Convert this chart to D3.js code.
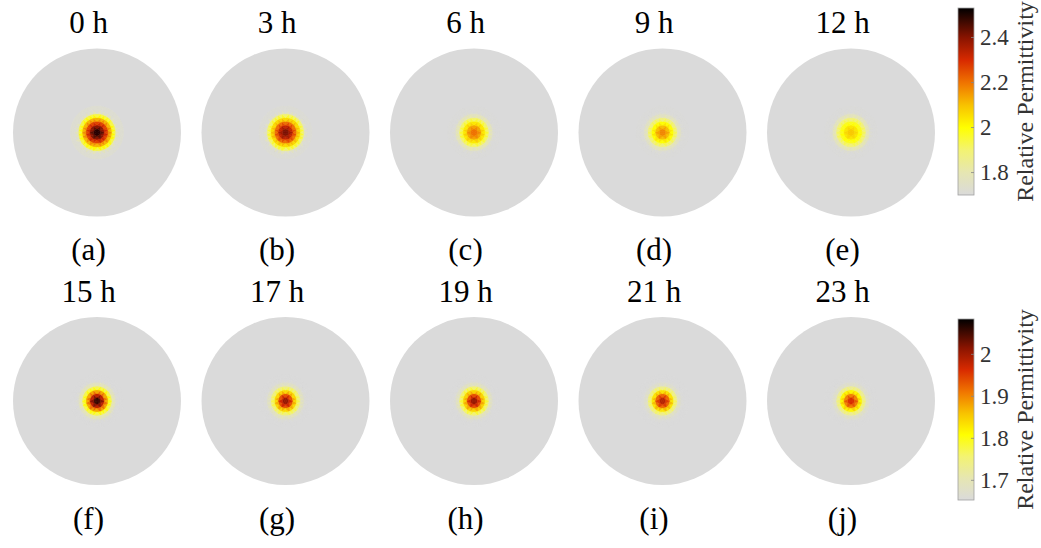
<!DOCTYPE html>
<html>
<head>
<meta charset="utf-8">
<script src="https://cdn.jsdelivr.net/npm/d3@7"></script>
<style>
  html, body { margin: 0; padding: 0; background: #fff; }
  svg text { font-family: "Liberation Serif", "Times New Roman", Times, serif; }
</style>
</head>
<body>
<div id="chart"></div>
<script>
// ---- Data -------------------------------------------------------
// Radial sample positions (fraction of the domain radius) and the
// reconstructed permittivity read off each frame at those positions.
const profileRadii = [0, 0.05, 0.10, 0.15, 0.20, 0.25];

const topTimes   = ['0 h', '3 h', '6 h', '9 h', '12 h'];
const topLabels  = ['(a)', '(b)', '(c)', '(d)', '(e)'];
const topProfiles = [
  [2.52, 2.46, 2.32, 2.16, 1.98, 1.72],
  [2.44, 2.38, 2.26, 2.10, 1.94, 1.71],
  [2.22, 2.18, 2.08, 1.95, 1.78, 1.70],
  [2.20, 2.15, 2.04, 1.92, 1.76, 1.70],
  [2.10, 2.07, 2.00, 1.92, 1.78, 1.70],
];
const topRange = [1.698, 2.529];
const topTicks = [1.8, 2.0, 2.2, 2.4];

const bottomTimes  = ['15 h', '17 h', '19 h', '21 h', '23 h'];
const bottomLabels = ['(f)', '(g)', '(h)', '(i)', '(j)'];
const bottomProfiles = [
  [2.08, 2.03, 1.92, 1.80, 1.69, 1.652],
  [2.03, 1.98, 1.88, 1.77, 1.68, 1.652],
  [2.03, 1.98, 1.88, 1.78, 1.68, 1.652],
  [2.01, 1.96, 1.87, 1.76, 1.67, 1.652],
  [1.98, 1.94, 1.85, 1.75, 1.67, 1.652],
];
const bottomRange = [1.652, 2.083];
const bottomTicks = [1.7, 1.8, 1.9, 2.0];

const cbarTitle = 'Relative Permittivity';

// ---- Layout -----------------------------------------------------
const W = 1041, H = 548;
const R = 84;                     // disk radius in px
const colX = d3.scaleLinear().domain([0, 4]).range([97, 851]);
const rowY = [132.5, 401];
const GRAY = '#dadada';

// custom "hot" map with a grey floor, like the figure
const hotStops = [
  [0.00, '#dadada'], [0.12, '#e6e6b2'], [0.24, '#f3f372'], [0.36, '#ffff00'],
  [0.48, '#f8c200'], [0.60, '#f07400'], [0.72, '#d82a00'], [0.84, '#8a1400'],
  [1.00, '#000000'],
];
const hot = d3.scaleLinear()
  .domain(hotStops.map(d => d[0]))
  .range(hotStops.map(d => d[1]))
  .interpolate(d3.interpolateRgb)
  .clamp(true);

const svg = d3.select('#chart').append('svg')
  .attr('width', W).attr('height', H)
  .attr('viewBox', `0 0 ${W} ${H}`);

const defs = svg.append('defs');
defs.append('filter').attr('id', 'soft')
  .append('feGaussianBlur').attr('stdDeviation', 0.6);

// ---- Triangular mesh (geometry only) ----------------------------
const ringStep = 0.045, nRings = 7;
const meshPts = [[0, 0]];
for (let k = 1; k <= nRings; k++) {
  const n = 6 * k, off = (k % 2) * Math.PI / n;
  for (let j = 0; j < n; j++) {
    const a = off + 2 * Math.PI * j / n;
    meshPts.push([k * ringStep * Math.cos(a), k * ringStep * Math.sin(a)]);
  }
}
const delaunay = d3.Delaunay.from(meshPts);
const tris = [];
for (let t = 0; t < delaunay.triangles.length; t += 3) {
  const p = [0, 1, 2].map(i => meshPts[delaunay.triangles[t + i]]);
  const cx = (p[0][0] + p[1][0] + p[2][0]) / 3;
  const cy = (p[0][1] + p[1][1] + p[2][1]) / 3;
  tris.push({ p, r: Math.hypot(cx, cy) });
}

function drawRow(row, times, labels, profiles, range) {
  const cy = rowY[row];
  const cnorm = d3.scaleLinear().domain(range).range([0, 1]);
  profiles.forEach((prof, i) => {
    const cx = colX(i);
    const g = svg.append('g').attr('transform', `translate(${cx},${cy})`);
    g.append('circle').attr('r', R).attr('fill', GRAY);

    const val = d3.scaleLinear().domain(profileRadii).range(prof).clamp(true);
    const sx = d3.scaleLinear().domain([-1, 1]).range([-R, R]);
    const line = d3.line().x(d => sx(d[0])).y(d => sx(d[1]));

    g.append('g').attr('filter', 'url(#soft)')
      .selectAll('path')
      .data(tris)
      .join('path')
      .attr('d', d => line(d.p) + 'Z')
      .attr('fill', d => hot(cnorm(val(d.r))))
      .attr('stroke', d => hot(cnorm(val(d.r))))
      .attr('stroke-width', 0.6);

    svg.append('text')
      .attr('x', cx - 8.5).attr('y', cy - 99.5)
      .attr('text-anchor', 'middle')
      .attr('font-size', 31).attr('fill', '#000')
      .text(times[i]);
    svg.append('text')
      .attr('x', cx - 8.5).attr('y', cy + 127.5)
      .attr('text-anchor', 'middle')
      .attr('font-size', 31).attr('fill', '#000')
      .text(labels[i]);
  });
}

function drawColorbar(id, yTop, yBot, range, ticks) {
  const x0 = 958, bw = 16;
  const y = d3.scaleLinear().domain(range).range([yBot, yTop]);
  const grad = defs.append('linearGradient')
    .attr('id', id).attr('x1', 0).attr('y1', 1).attr('x2', 0).attr('y2', 0);
  hotStops.forEach(s => grad.append('stop')
    .attr('offset', s[0]).attr('stop-color', s[1]));

  const g = svg.append('g');
  g.append('rect')
    .attr('x', x0).attr('y', yTop).attr('width', bw).attr('height', yBot - yTop)
    .attr('fill', `url(#${id})`).attr('stroke', '#a0a0a0').attr('stroke-width', 0.8);

  const axis = d3.axisRight(y).tickValues(ticks)
    .tickFormat(d3.format('~g')).tickSize(0).tickPadding(6);
  const ax = g.append('g').attr('transform', `translate(${x0 + bw},0)`).call(axis);
  ax.select('.domain').remove();
  ax.selectAll('text')
    .attr('font-size', 23).attr('fill', '#333');
  ax.selectAll('.tick').append('line')
    .attr('x1', -3).attr('x2', 0).attr('stroke', '#888').attr('stroke-width', 0.8);

  g.append('text')
    .attr('transform', `translate(1033,${(yTop + yBot) / 2}) rotate(-90)`)
    .attr('text-anchor', 'middle')
    .attr('font-size', 24).attr('fill', '#333')
    .text(cbarTitle);
}

drawRow(0, topTimes, topLabels, topProfiles, topRange);
drawRow(1, bottomTimes, bottomLabels, bottomProfiles, bottomRange);
drawColorbar('cb1', 8, 195, topRange, topTicks);
drawColorbar('cb2', 319, 500, bottomRange, bottomTicks);
</script>
</body>
</html>
